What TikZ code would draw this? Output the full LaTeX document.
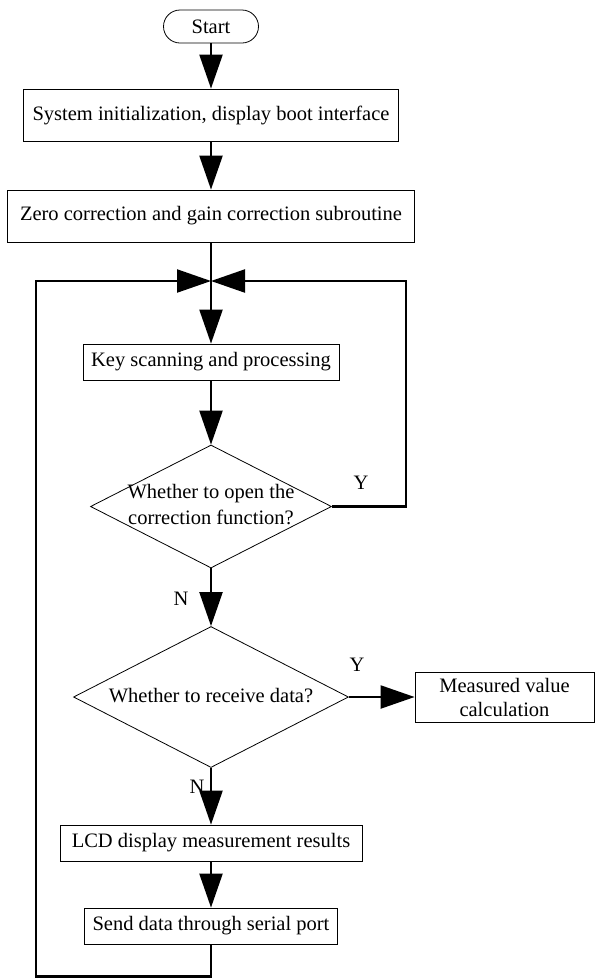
\documentclass[tikz,border=0pt]{standalone}
\usepackage{fontspec}
\setmainfont{Liberation Serif}
\usetikzlibrary{arrows.meta,shapes.geometric}
\begin{document}
\begin{tikzpicture}[x=1pt,y=-1pt,
  every node/.style={font=\fontsize{20.5}{24}\selectfont},
  proc/.style={draw, line width=0.8pt, rectangle, inner sep=0pt, align=center},
  dec/.style={draw, line width=0.8pt, diamond, inner sep=0pt},
  conn/.style={line width=2.2pt},
  arr/.style={conn, -{Triangle[length=34pt,width=23pt]}},
  lab/.style={inner sep=0pt}]
\useasboundingbox (0,0) rectangle (596,978);

\node[proc, rounded corners=16.5pt, minimum width=95pt, minimum height=33pt] (start) at (211,26.5) {Start};
\node[proc, minimum width=375pt, minimum height=52pt] (init) at (211,115) {System initialization, display boot interface};
\node[proc, minimum width=407pt, minimum height=52pt] (zero) at (211,216) {Zero correction and gain correction subroutine};
\coordinate (j) at (211,281);
\coordinate (jr) at (406,281);
\coordinate (jl) at (36,281);
\node[proc, minimum width=256pt, minimum height=36pt] (key) at (211,362) {Key scanning and processing};
\node[dec, minimum width=241pt, minimum height=123pt] (d1) at (211,506.5) {};
\node[lab, align=center, font=\fontsize{20.5}{26}\selectfont] (d1t) at (211,505) {Whether to open the\\correction function?};
\node[dec, minimum width=275pt, minimum height=141pt] (d2) at (211,697) {};
\node[lab] (d2t) at (211,696) {Whether to receive data?};
\node[proc, minimum width=179pt, minimum height=50pt] (meas) at (504.5,697) {Measured value\\calculation};
\node[proc, minimum width=302pt, minimum height=36pt] (lcd) at (211,843) {LCD display measurement results};
\node[proc, minimum width=253pt, minimum height=36pt] (send) at (211,926) {Send data through serial port};
\coordinate (bot) at (211,976.5);

\node[lab] (y1) at (361,483) {Y};
\node[lab] (n1) at (181,599) {N};
\node[lab] (y2) at (357,665) {Y};
\node[lab] (n2) at (197,787) {N};

\draw[arr] (start.south) -- (init.north);
\draw[arr] (init.south) -- (zero.north);
\draw[conn] (zero.south) -- (j);
\draw[arr] (j) -- (key.north);
\draw[arr] (key.south) -- (d1.north);
\draw[arr] (d1.east) -| (jr) -- (j);
\draw[arr] (d1.south) -- (d2.north);
\draw[arr] (d2.east) -- (meas.west);
\draw[arr] (d2.south) -- (lcd.north);
\draw[arr] (lcd.south) -- (send.north);
\draw[arr] (send.south) -- (bot) -| (jl) -- (j);
\end{tikzpicture}
\end{document}
